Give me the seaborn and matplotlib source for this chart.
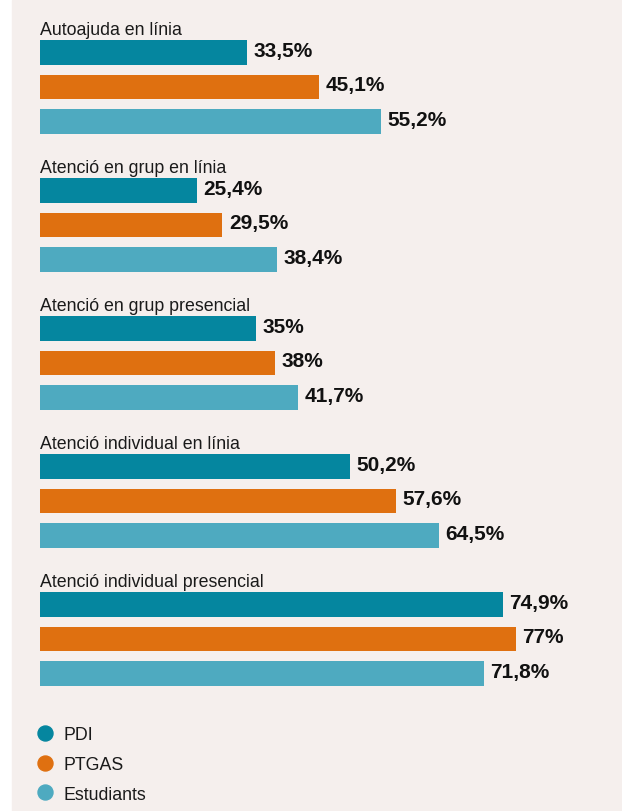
import numpy as np
import pandas as pd
import seaborn as sns
import matplotlib.pyplot as plt
from matplotlib.lines import Line2D
from matplotlib.patches import Rectangle

categories = [
    "Autoajuda en línia",
    "Atenció en grup en línia",
    "Atenció en grup presencial",
    "Atenció individual en línia",
    "Atenció individual presencial",
]
series = ["PDI", "PTGAS", "Estudiants"]
pdi = [33.5, 25.4, 35, 50.2, 74.9]
ptgas = [45.1, 29.5, 38, 57.6, 77]
estudiants = [55.2, 38.4, 41.7, 64.5, 71.8]

colors = ["#05869f", "#df7010", "#4eaac0"]
bg = "#f5efed"

sns.set_theme(style="white")
plt.rcParams["font.family"] = ["Liberation Sans", "DejaVu Sans"]

# Long-form table: each group takes four rows (title slot + three bars)
rows = []
for g, cat in enumerate(categories):
    for s, (name, vals) in enumerate(zip(series, [pdi, ptgas, estudiants])):
        rows.append({"categoria": cat, "serie": name, "valor": vals[g],
                     "pos": 4 * g + s + 1})
df = pd.DataFrame(rows)

fig = plt.figure(figsize=(6.22, 8.12), dpi=100, facecolor="white")
fig.patches.append(Rectangle((12 / 622, 0), 610 / 622, 811 / 812,
                             transform=fig.transFigure, color=bg, zorder=-10))
ax = fig.add_axes([0, 0, 1, 1])
ax.set_facecolor("none")

sns.barplot(data=df, x="valor", y="pos", hue="serie", hue_order=series,
            palette=colors, orient="h", native_scale=True, dodge=False,
            width=0.72, saturation=1, legend=False, linewidth=0, ax=ax)

ax.set_xlim(-40 / 6.18, (622 - 40) / 6.18)
ax.set_ylim(1 + (812 - 53.5) / 34.5, 1 - 53.5 / 34.5)
ax.axis("off")

def fmt(v):
    return f"{v:g}".replace(".", ",") + "%"

for g, cat in enumerate(categories):
    ax.text(0, 4 * g + 1 - 0.54, cat, ha="left", va="baseline",
            fontsize=12.8, color="#1a1a1a")

for _, r in df.iterrows():
    ax.annotate(fmt(r["valor"]), xy=(r["valor"], r["pos"]), xytext=(4.8, 1.5),
                textcoords="offset points", ha="left", va="center",
                fontsize=15, fontweight="bold", color="#111111")

handles = [Line2D([], [], marker="o", linestyle="none", markersize=10.8,
                  markerfacecolor=c, markeredgecolor=c) for c in colors]
fig.legend(handles, series, loc="upper left",
           bbox_to_anchor=(36 / 622, 1 - 727 / 812), frameon=False,
           fontsize=12.8, borderaxespad=0, borderpad=0, handlelength=1.0,
           handletextpad=0.55, labelspacing=0.72, labelcolor="#1a1a1a")

fig.savefig("out.png", dpi=100, facecolor="white")
